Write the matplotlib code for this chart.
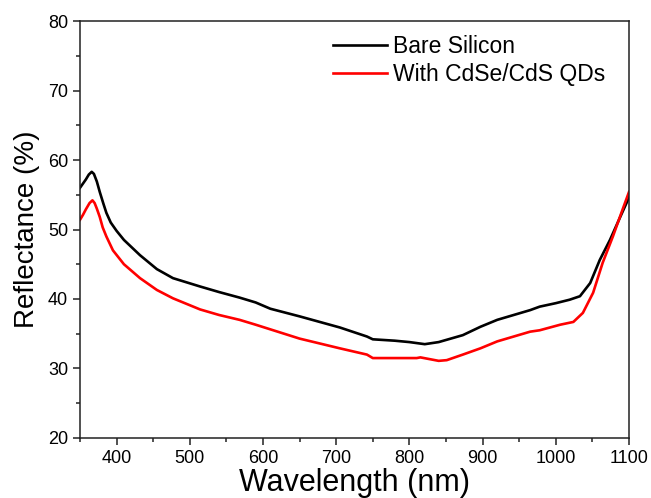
import matplotlib.pyplot as plt

plt.rcParams["font.family"] = ["Liberation Sans", "DejaVu Sans"]

# wavelength (nm) / reflectance (%)
wl_bare = [350, 354, 358, 362, 366, 369, 373, 377, 382, 386, 392, 400, 410,
           432, 455, 477, 514, 540, 568, 590, 610, 650, 705, 742, 750, 780, 800,
           821, 840, 873, 897, 920, 965, 978, 1000, 1019, 1033, 1047, 1060, 1074,
           1088, 1100]
r_bare = [56.0, 56.6, 57.2, 57.9, 58.3, 58.0, 56.9, 55.4, 53.7, 52.4, 51.0, 49.8,
          48.5, 46.3, 44.3, 43.0, 41.8, 41.0, 40.2, 39.5, 38.6, 37.5, 35.9,
          34.6, 34.2, 34.0, 33.8, 33.5, 33.8, 34.8, 36.0, 37.0, 38.4, 38.9, 39.4,
          39.9, 40.4, 42.3, 45.6, 48.5, 51.8, 54.6]

wl_qd = [350, 354, 358, 363, 367, 370, 373, 377, 381, 386, 395, 410, 432, 455,
         477, 514, 540, 568, 590, 605, 650, 705, 742, 750, 780, 810, 815, 825,
         840, 851, 873, 897, 920, 965, 978, 1006, 1024, 1037, 1051, 1064, 1078,
         1092, 1100]
r_qd = [51.4, 52.1, 52.9, 53.8, 54.2, 53.8, 53.0, 51.8, 50.3, 49.0, 47.0, 45.0,
        43.0, 41.3, 40.1, 38.5, 37.7, 37.0, 36.3, 35.8, 34.3, 32.9, 32.0, 31.5,
        31.5, 31.5, 31.6, 31.4, 31.1, 31.2, 32.0, 32.9, 33.9, 35.3, 35.5, 36.3,
        36.7, 38.0, 40.9, 45.2, 49.0, 53.1, 55.4]

labels = ["Bare Silicon", "With CdSe/CdS QDs"]

fig = plt.figure(figsize=(6.51, 4.98), dpi=100)
ax = fig.add_axes([0.1229, 0.1205, 0.8433, 0.8373])

ax.plot(wl_bare, r_bare, color="black", lw=1.9, label=labels[0])
ax.plot(wl_qd, r_qd, color="red", lw=1.9, label=labels[1])

ax.set_xlim(350, 1100)
ax.set_ylim(20, 80)
ax.set_xticks([400, 500, 600, 700, 800, 900, 1000, 1100])
ax.set_xticks(range(350, 1100, 50), minor=True)
ax.set_yticks(range(20, 81, 10))
ax.set_yticks(range(25, 80, 10), minor=True)
ax.tick_params(which="both", direction="out", top=False, right=False,
               width=1.1, color="#222222")
ax.tick_params(which="major", length=5, labelsize=13)
ax.tick_params(which="minor", length=3)
for s in ax.spines.values():
    s.set_linewidth(1.1)
    s.set_color("#222222")

ax.set_xlabel("Wavelength (nm)", fontsize=22, labelpad=1)
ax.set_ylabel("Reflectance (%)", fontsize=20, labelpad=6)

ax.legend(loc="upper left", bbox_to_anchor=(0.461, 0.967), frameon=False,
          borderpad=0, borderaxespad=0, fontsize=16.5, handlelength=2.35,
          handletextpad=0.28, labelspacing=0.22)

plt.savefig("out.png", dpi=100)
